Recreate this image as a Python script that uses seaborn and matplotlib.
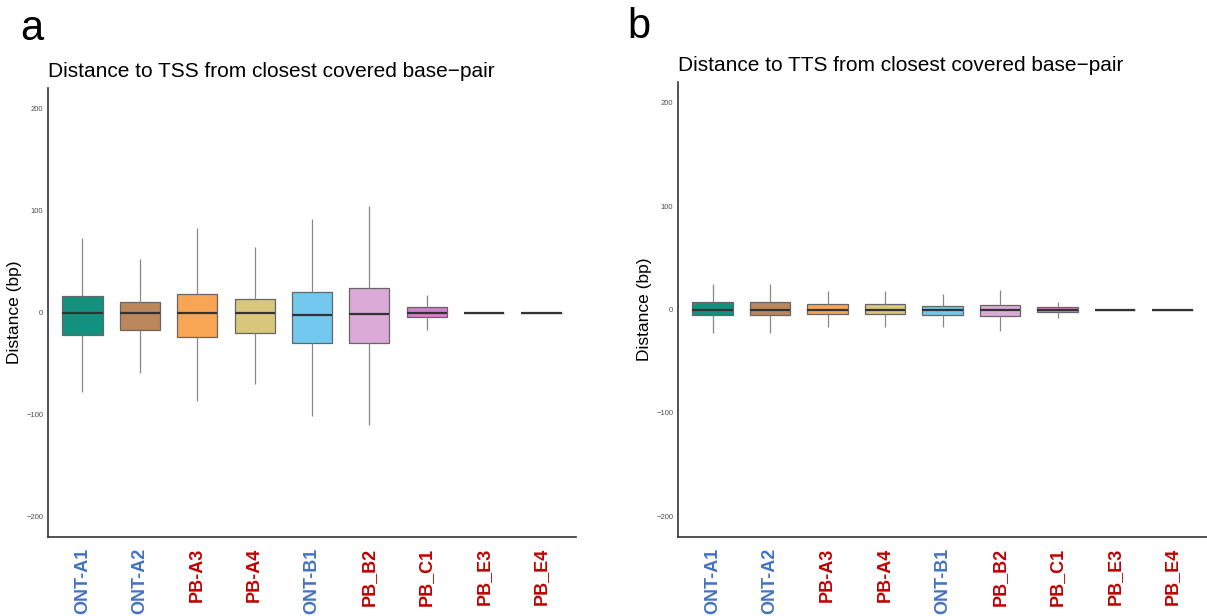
import pandas as pd
import numpy as np
import matplotlib
matplotlib.use("Agg")
import matplotlib.pyplot as plt
import seaborn as sns

samples = ["ONT-A1", "ONT-A2", "PB-A3", "PB-A4", "ONT-B1", "PB_B2", "PB_C1", "PB_E3", "PB_E4"]
label_colors = ["#4472c4", "#4472c4", "#c00000", "#c00000", "#4472c4",
                "#c00000", "#c00000", "#c00000", "#c00000"]
box_colors = ["#13917f", "#bb875b", "#f8a654", "#d9c77c", "#72c8ee",
              "#dbaad6", "#d27fd0", "#e0e0e0", "#e0e0e0"]

# TSS: whisker low, Q1, median, Q3, whisker high (bp)
tss_low = [-78, -59, -87, -70, -101, -110, -17, 0, 0]
tss_q1 = [-22.5, -17.3, -24, -20, -29.6, -30, -4.2, 0, 0]
tss_med = [0, 0, 0, 0, -2.3, -1.3, 0, 0, 0]
tss_q3 = [16, 10.7, 18.6, 13.7, 19.8, 23.8, 4.9, 0, 0]
tss_high = [72.6, 52.5, 82.4, 64.5, 92, 104.6, 17.6, 0, 0]

# TTS
tts_low = [-22.8, -22.8, -16.7, -16.7, -16.7, -20.8, -8, 0, 0]
tts_q1 = [-5, -5, -4, -4, -5.4, -6, -2.6, 0, 0]
tts_med = [0, 0, 0, 0, 0, 0, 0, 0, 0]
tts_q3 = [7, 7, 5, 5, 3.2, 4.2, 2.2, 0, 0]
tts_high = [24.7, 24.7, 18, 18, 14.7, 19, 7.7, 0, 0]


def long_table(low, q1, med, q3, high):
    rows = []
    for i, s in enumerate(samples):
        for v in (low[i], q1[i], med[i], q3[i], high[i]):
            rows.append((s, v))
    return pd.DataFrame(rows, columns=["sample", "dist"])


df_tss = long_table(tss_low, tss_q1, tss_med, tss_q3, tss_high)
df_tts = long_table(tts_low, tts_q1, tts_med, tts_q3, tts_high)

sns.set_style("white")
plt.rcParams["font.family"] = ["Liberation Sans", "DejaVu Sans"]
plt.rcParams["text.color"] = "black"
plt.rcParams["axes.labelcolor"] = "black"

W, H = 1207, 616
fig = plt.figure(figsize=(W / 100, H / 100), dpi=100)

ax_a = fig.add_axes([48 / W, 79 / H, 528 / W, 449 / H])
ax_b = fig.add_axes([678 / W, 79 / H, 529 / W, 455 / H])


def draw(ax, df, title):
    sns.boxplot(data=df, x="sample", y="dist", hue="sample", order=samples,
                palette=dict(zip(samples, box_colors)), legend=False,
                saturation=1, width=0.7, whis=(0, 100),
                showfliers=False, showcaps=False,
                linewidth=0.9, linecolor="#5a5a5a",
                boxprops=dict(edgecolor="#666666"),
                whiskerprops=dict(color="#888888", linewidth=0.9),
                medianprops=dict(color="#333333", linewidth=1.6),
                ax=ax)
    ax.set_ylim(-220, 220)
    ax.set_xlim(-0.6, len(samples) - 0.4)
    ax.set_yticks([-200, -100, 0, 100, 200])
    ax.set_yticklabels(["\u2212200", "\u2212100", "0", "100", "200"])
    for sp in ("top", "right"):
        ax.spines[sp].set_visible(False)
    for sp in ("left", "bottom"):
        ax.spines[sp].set_color("#333333")
        ax.spines[sp].set_linewidth(1.2)
    ax.tick_params(axis="y", length=2.5, width=0.8, color="#333333",
                   labelsize=5.5, labelcolor="#4d4d4d", pad=1)
    ax.tick_params(axis="x", length=3, width=0.8, color="#333333",
                   labelsize=13, pad=5)
    ax.set_xticks(range(len(samples)))
    ax.set_xticklabels(samples, rotation=90, fontweight="bold")
    for lab, c in zip(ax.get_xticklabels(), label_colors):
        lab.set_color(c)
    ax.set_xlabel("")
    ax.set_ylabel("Distance (bp)", fontsize=12.5, labelpad=3)
    ax.set_title(title, loc="left", fontsize=15, pad=8)


draw(ax_a, df_tss, "Distance to TSS from closest covered base\u2212pair")
draw(ax_b, df_tts, "Distance to TTS from closest covered base\u2212pair")

fig.text(20 / W, 1 - 40 / H, "a", fontsize=30, va="baseline")
fig.text(627 / W, 1 - 38 / H, "b", fontsize=30, va="baseline")

fig.savefig("out.png", dpi=100)
